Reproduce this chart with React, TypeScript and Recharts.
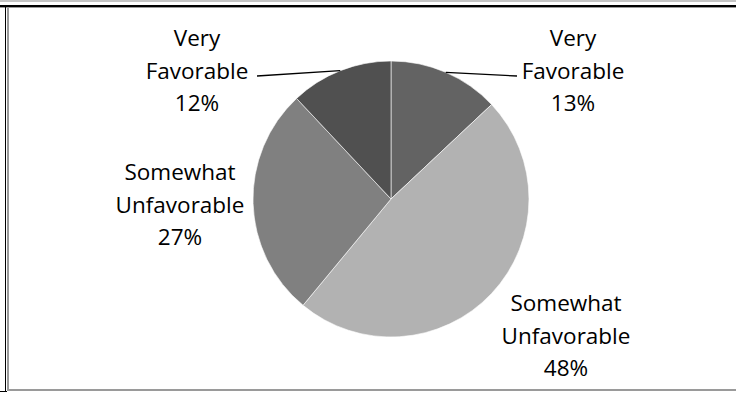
import React from "react";
import { PieChart, Pie, Cell } from "recharts";

const categories = ["Very Favorable", "Somewhat Unfavorable", "Somewhat Unfavorable", "Very Favorable"];
const shares = [13, 48, 27, 12];
const colors = ["#636363", "#b2b2b2", "#808080", "#505050"];

const data = categories.map((name, i) => ({ name, value: shares[i] }));

// label placement relative to pie center (layout config, not data)
const labelLayout = [
  { dx: 182, dy: -153, line: true, lineEndDx: 126, lineEndDy: -123 },
  { dx: 175, dy: 112, line: false },
  { dx: -211, dy: -19, line: false },
  { dx: -194, dy: -153, line: true, lineEndDx: -134, lineEndDy: -123 },
];

const FONT = "'Open Sans', 'Noto Sans', sans-serif";

const renderLabel = (props: any) => {
  const { cx, cy, midAngle, outerRadius, index, name, percent } = props;
  const L = labelLayout[index];
  const RAD = Math.PI / 180;
  const ex = cx + outerRadius * Math.cos(-midAngle * RAD);
  const ey = cy + outerRadius * Math.sin(-midAngle * RAD);
  const words = String(name).split(" ");
  const lines = [...words, `${Math.round(percent * 100)}%`];
  const tx = cx + L.dx;
  const ty = cy + L.dy;
  return (
    <g key={`lbl-${index}`}>
      {L.line && (
        <polyline
          points={`${ex},${ey} ${cx + (L.lineEndDx as number)},${cy + (L.lineEndDy as number)}`}
          fill="none"
          stroke="#000"
          strokeWidth={1.3}
        />
      )}
      <text x={tx} y={ty} textAnchor="middle" fontFamily={FONT} fontSize={22.5} fill="#000">
        {lines.map((t, i) => (
          <tspan key={i} x={tx} dy={i === 0 ? 0 : 32.5}>
            {t}
          </tspan>
        ))}
      </text>
    </g>
  );
};

export default function App() {
  return (
    <div style={{ position: "absolute", left: 0, top: 0, width: 736, height: 393, background: "#fff", overflow: "hidden" }}>
      <div style={{ position: "absolute", left: 0, top: 0, width: 736, height: 2, background: "#c4c4c4" }} />
      <div style={{ position: "absolute", left: 0, top: 5, width: 736, height: 2, background: "#000" }} />
      <div style={{ position: "absolute", left: 0, top: 7, width: 736, height: 1, background: "#9a9a9a" }} />
      <div style={{ position: "absolute", left: 5, top: 7, width: 1, height: 385, background: "#000" }} />
      <div style={{ position: "absolute", left: 7, top: 8, width: 2, height: 382, background: "#9a9a9a" }} />
      <div style={{ position: "absolute", left: 7, top: 389, width: 729, height: 2, background: "#9a9a9a" }} />
      <div style={{ position: "absolute", left: 0, top: 391, width: 7, height: 1, background: "#000" }} />
      <div style={{ position: "absolute", left: 0, top: 0 }}>
        <PieChart width={736} height={393} margin={{ top: 0, right: 0, bottom: 0, left: 0 }}>
          <Pie
            data={data}
            dataKey="value"
            nameKey="name"
            cx={391}
            cy={199}
            outerRadius={138}
            startAngle={90}
            endAngle={-270}
            stroke="#ffffff"
            strokeWidth={0.6}
            label={renderLabel}
            labelLine={false}
            isAnimationActive={false}
          >
            {data.map((_, i) => (
              <Cell key={i} fill={colors[i]} />
            ))}
          </Pie>
        </PieChart>
      </div>
    </div>
  );
}
